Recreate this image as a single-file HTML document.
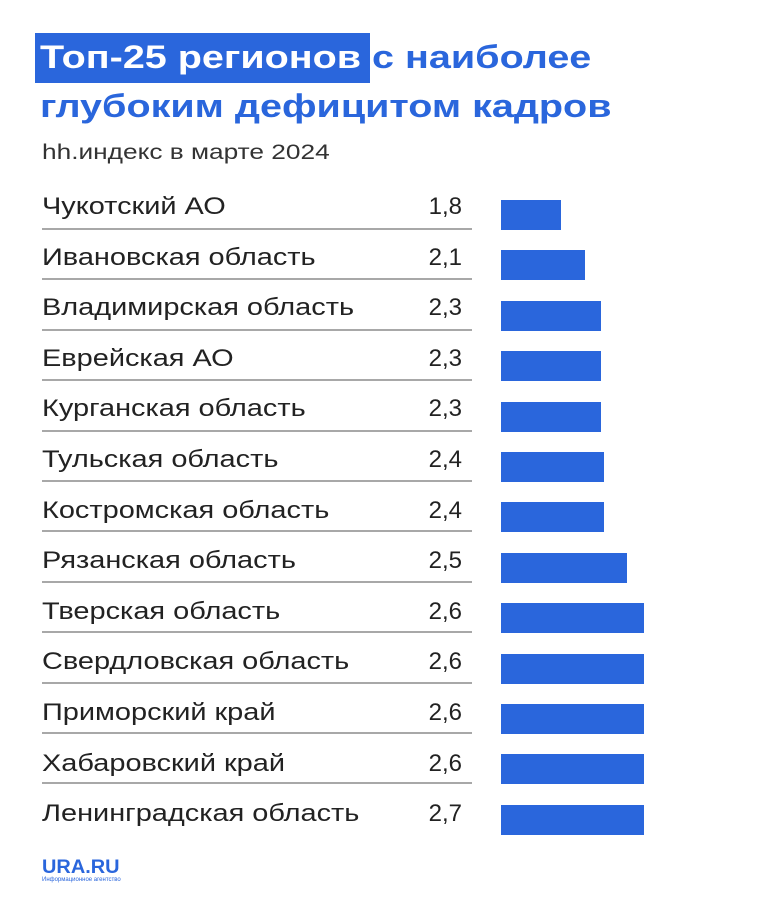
<!DOCTYPE html>
<html><head><meta charset="utf-8"><style>
body{margin:0;width:760px;height:912px;background:#fff;position:relative;overflow:hidden;font-family:"Liberation Sans","DejaVu Sans",sans-serif;}
.t{position:absolute;left:40px;font-weight:bold;font-size:32px;line-height:32px;color:#2a66dc;white-space:nowrap;transform:scaleX(1.235);transform-origin:0 0}
.hl{position:absolute;left:35px;top:33px;width:335px;height:50px;background:#2a66dc}
.sub{position:absolute;left:42px;top:142px;font-size:21px;line-height:21px;color:#333;transform:scaleX(1.25);transform-origin:0 0;white-space:nowrap}
.r{position:absolute;left:42px;font-size:24px;line-height:24px;color:#222;white-space:nowrap;transform:scaleX(1.205);transform-origin:0 0}
.v{position:absolute;left:380px;width:82px;text-align:right;font-size:24px;line-height:24px;color:#222}
.ln{position:absolute;left:42px;width:430px;height:2px;background:#a8a8a8}
.b{position:absolute;left:501px;height:30px;background:#2a66dc}
</style></head><body>
<div class="hl"></div>
<div class="t" style="top:41px"><span style="color:#fff">Топ-25 регионов</span> с наиболее</div>
<div class="t" style="top:90px">глубоким дефицитом кадров</div>
<div class="sub">hh.индекс в марте 2024</div>
<div id="rows"></div>
<div style="position:absolute;left:42px;top:857px;font-weight:bold;font-size:19px;color:#2a66dc;transform:scaleX(1.05);transform-origin:0 0">URA.RU</div>
<div style="position:absolute;left:42px;top:877px;font-size:6px;color:#2a66dc">Информационное агентство</div>
<script>
var d=[["Чукотский АО","1,8",60],["Ивановская область","2,1",84],["Владимирская область","2,3",100],["Еврейская АО","2,3",100],["Курганская область","2,3",100],["Тульская область","2,4",103],["Костромская область","2,4",103],["Рязанская область","2,5",126],["Тверская область","2,6",143],["Свердловская область","2,6",143],["Приморский край","2,6",143],["Хабаровский край","2,6",143],["Ленинградская область","2,7",143]];
var h="";d.forEach(function(r,i){var y=Math.round(200+i*50.4);var bl=Math.round(215+i*50.6);
h+='<div class="r" style="top:'+(bl-20)+'px">'+r[0]+'</div><div class="v" style="top:'+(bl-20)+'px">'+r[1]+'</div><div class="b" style="top:'+y+'px;width:'+r[2]+'px"></div>';
if(i<12)h+='<div class="ln" style="top:'+(y+28)+'px"></div>';});
document.getElementById("rows").innerHTML=h;
</script>
</body></html>
